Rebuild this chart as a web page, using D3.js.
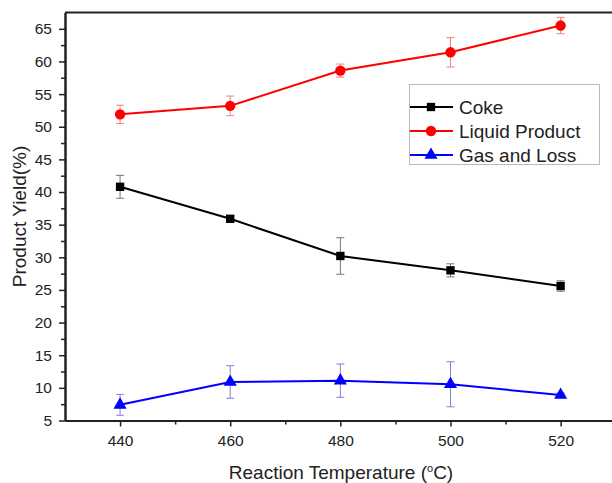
<html>
<head>
<script src="https://cdn.jsdelivr.net/npm/d3@7"></script>
<style>
  body { margin:0; background:#fff; }
  svg { font-family: Arial, "Liberation Sans", sans-serif; }
</style>
</head>
<body>
<div id="container"></div>
<script>
// data
var temps = [440, 460, 480, 500, 520];
var coke = [40.8, 35.9, 30.2, 28.0, 25.6];
var cokeErr = [1.75, 0.5, 2.8, 1.0, 0.8];
var liquid = [51.9, 53.2, 58.6, 61.4, 65.5];
var liquidErr = [1.4, 1.5, 1.0, 2.25, 1.25];
var gas = [7.4, 10.9, 11.1, 10.55, 8.9];
var gasErr = [1.6, 2.5, 2.55, 3.45, 0.3];
var yTicks = [5, 10, 15, 20, 25, 30, 35, 40, 45, 50, 55, 60, 65];
var seriesNames = ["Coke", "Liquid Product", "Gas and Loss"];

var series = [
  {name: seriesNames[0], vals: coke, err: cokeErr, color: "#000", errColor: "#777", shape: d3.symbolSquare, size: 70},
  {name: seriesNames[1], vals: liquid, err: liquidErr, color: "#ff0000", errColor: "#f08080", shape: d3.symbolCircle, size: 85},
  {name: seriesNames[2], vals: gas, err: gasErr, color: "#0000ff", errColor: "#8080e0", shape: d3.symbolTriangle, size: 75}
];

var W = 612, H = 483;
var padL = 65, padR = 615.7, padT = 12.5, padB = 420.5;

var svg = d3.select("#container").append("svg")
  .attr("width", W).attr("height", H);

var x = d3.scaleLinear().domain([430, 530]).range([padL, padR]);
var y = d3.scaleLinear().domain([5, 67.5]).range([padB, padT]);

// axes
var xAxis = d3.axisBottom(x).tickValues(temps).tickSize(6).tickSizeOuter(0).tickPadding(8);
var xMinor = d3.axisBottom(x).tickValues([450, 470, 490, 510]).tickSize(4).tickSizeOuter(0).tickFormat("");
var yAxis = d3.axisLeft(y).tickValues(yTicks).tickSize(6).tickSizeOuter(0).tickPadding(7);
var yMinorVals = yTicks.map(function(d){ return d + 2.5; }).filter(function(d){ return d < 67.5; });
var yMinor = d3.axisLeft(y).tickValues(yMinorVals).tickSize(4).tickSizeOuter(0).tickFormat("");

function styleAxis(g) {
  g.select(".domain").attr("stroke", "#222").attr("stroke-width", 2);
  g.selectAll(".tick line").attr("stroke", "#222").attr("stroke-width", 1.5);
  g.selectAll(".tick text").attr("fill", "#222").style("font-size", "15.5px");
}

svg.append("g").attr("transform", "translate(0," + padB + ")").call(xMinor).call(styleAxis);
svg.append("g").attr("transform", "translate(0," + padB + ")").call(xAxis).call(styleAxis);
svg.append("g").attr("transform", "translate(" + padL + ",0)").call(yMinor).call(styleAxis);
svg.append("g").attr("transform", "translate(" + padL + ",0)").call(yAxis).call(styleAxis);

// top frame line
svg.append("line")
  .attr("x1", padL).attr("x2", W).attr("y1", padT).attr("y2", padT)
  .attr("stroke", "#222").attr("stroke-width", 2);

// axis titles
var xt = svg.append("text")
  .attr("x", 341).attr("y", 479)
  .attr("text-anchor", "middle")
  .attr("fill", "#222").style("font-size", "19px")
  .text("Reaction Temperature (");
xt.append("tspan").attr("dy", -7).style("font-size", "11px").text("o");
xt.append("tspan").attr("dy", 7).text("C)");

svg.append("text")
  .attr("transform", "translate(26," + ((padT + padB) / 2) + ") rotate(-90)")
  .attr("text-anchor", "middle")
  .attr("fill", "#222").style("font-size", "19px")
  .text("Product Yield(%)");

var line = d3.line()
  .x(function(d, i){ return x(temps[i]); })
  .y(function(d){ return y(d); });

series.forEach(function(s) {
  var g = svg.append("g");
  // error bars
  s.vals.forEach(function(v, i) {
    var cx = x(temps[i]);
    var y1 = y(v + s.err[i]), y2 = y(v - s.err[i]);
    g.append("line").attr("x1", cx).attr("x2", cx).attr("y1", y1).attr("y2", y2)
      .attr("stroke", s.errColor).attr("stroke-width", 1);
    [y1, y2].forEach(function(yy) {
      g.append("line").attr("x1", cx - 4).attr("x2", cx + 4).attr("y1", yy).attr("y2", yy)
        .attr("stroke", s.errColor).attr("stroke-width", 1);
    });
  });
  g.append("path").datum(s.vals)
    .attr("d", line)
    .attr("fill", "none").attr("stroke", s.color).attr("stroke-width", 2);
  g.selectAll("path.pt").data(s.vals).enter().append("path")
    .attr("class", "pt")
    .attr("transform", function(d, i){ return "translate(" + x(temps[i]) + "," + y(d) + ")"; })
    .attr("d", d3.symbol().type(s.shape).size(s.size))
    .attr("fill", s.color);
});

// legend
var lg = svg.append("g");
lg.append("rect")
  .attr("x", 409.5).attr("y", 84.5).attr("width", 190).attr("height", 80)
  .attr("fill", "#fff").attr("stroke", "#bbb").attr("stroke-width", 1);
series.forEach(function(s, i) {
  var ly = 107 + i * 24;
  lg.append("line").attr("x1", 410).attr("x2", 453).attr("y1", ly).attr("y2", ly)
    .attr("stroke", s.color).attr("stroke-width", 2);
  lg.append("path")
    .attr("transform", "translate(431," + ly + ")")
    .attr("d", d3.symbol().type(s.shape).size(s.size))
    .attr("fill", s.color);
  lg.append("text").attr("x", 459).attr("y", ly + 7)
    .attr("fill", "#222").style("font-size", "19px")
    .text(s.name);
});
</script>
</body>
</html>
